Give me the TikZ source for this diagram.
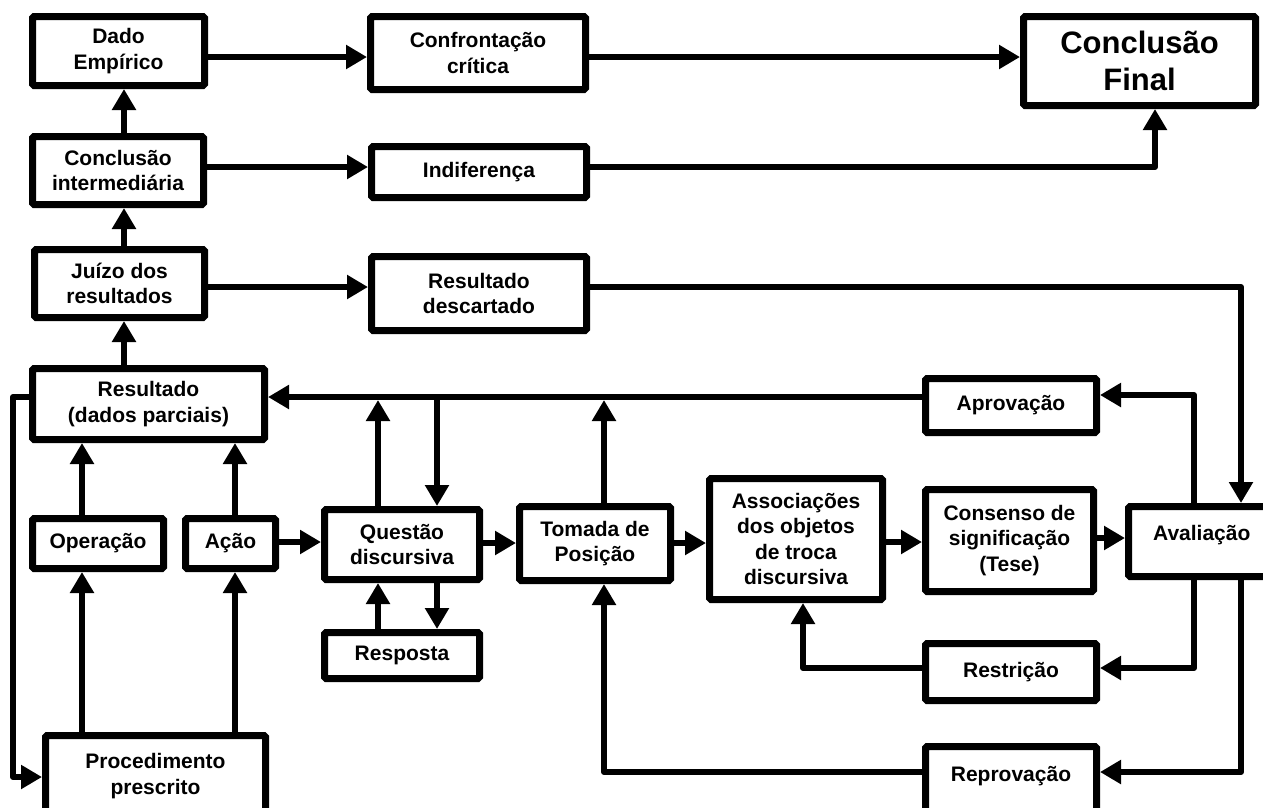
\documentclass[tikz,border=0pt]{standalone}
\usepackage{fontspec}
\setmainfont{Liberation Sans}
\usetikzlibrary{arrows.meta}
\begin{document}
\begin{tikzpicture}[x=1pt,y=-1pt,
  box/.style={draw, line width=7pt, inner sep=0pt, align=center, fill=white,
    font=\bfseries\fontsize{21}{25.5}\selectfont, rounded corners=1.5pt},
  conn/.style={line width=6pt, line join=round, -{Triangle[width=23pt,length=21pt]}},
  wire/.style={line width=6pt, line join=round, line cap=round}]
\clip (0,0) rectangle (1263,807);
\fill[white] (0,0) rectangle (1263,807);

% coordinates for connector routes
\coordinate (xA) at (124,0);
\coordinate (xO) at (82,0);
\coordinate (xC) at (235,0);
\coordinate (xL) at (13,0);
\coordinate (xQa) at (378,0);
\coordinate (xQb) at (437,0);
\coordinate (xT) at (604,0);
\coordinate (xR) at (803,0);
\coordinate (xH) at (1194,0);
\coordinate (xG) at (1241,0);
\coordinate (xF) at (1155,0);
\coordinate (yA) at (0,57);
\coordinate (yB) at (0,167);
\coordinate (yC) at (0,287);
\coordinate (yD) at (0,397);
\coordinate (yDb) at (0,400);
\coordinate (yE) at (0,777);
\coordinate (yF) at (0,542);
\coordinate (yG) at (0,395);
\coordinate (yH) at (0,668);
\coordinate (yI) at (0,772);

% boxes
\node[box, minimum width=172pt, minimum height=69pt] (dado) at (118.5,51) {Dado\\Empírico};
\node[box, minimum width=215pt, minimum height=73pt] (conf) at (478,53) {Confrontação\\crítica};
\node[box, minimum width=232pt, minimum height=89pt, font=\bfseries\fontsize{31}{37}\selectfont] (cfin) at (1139.5,61) {Conclusão\\Final};
\node[box, minimum width=171pt, minimum height=68pt] (cint) at (118,170.5) {Conclusão\\intermediária};
\node[box, minimum width=215pt, minimum height=51pt] (indif) at (479,172) {Indiferença};
\node[box, minimum width=170pt, minimum height=68pt] (juizo) at (119.5,283.5) {Juízo dos\\resultados};
\node[box, minimum width=215pt, minimum height=74pt] (rdesc) at (479,293.5) {Resultado\\descartado};
\node[box, minimum width=232pt, minimum height=71pt] (res) at (148.5,404) {Resultado\\(dados parciais)};
\node[box, minimum width=131pt, minimum height=50pt] (oper) at (98,543.5) {Operação};
\node[box, minimum width=90pt, minimum height=50pt] (acao) at (230.5,543.5) {Ação};
\node[box, minimum width=220pt, minimum height=81.5pt] (proc) at (155.5,776.25) {Procedimento\\prescrito};
\node[box, minimum width=155pt, minimum height=70pt] (quest) at (402,544.5) {Questão\\discursiva};
\node[box, minimum width=155pt, minimum height=46pt] (resp) at (402,655.5) {Resposta};
\node[box, minimum width=151pt, minimum height=74pt] (tomada) at (595,543.5) {Tomada de\\Posição};
\node[box, minimum width=173pt, minimum height=121pt] (assoc) at (796,539) {Associações\\dos objetos\\de troca\\discursiva};
\node[box, minimum width=168pt, minimum height=102pt] (cons) at (1009.5,540.5) {Consenso de\\significação\\(Tese)};
\node[box, minimum width=146.5pt, minimum height=70pt, text height=14pt, text depth=17pt] (aval) at (1201.75,541.5) {Avaliação};
\node[box, minimum width=171pt, minimum height=54pt] (aprov) at (1011,405.5) {Aprovação};
\node[box, minimum width=171pt, minimum height=57pt] (restr) at (1011,672) {Restrição};
\node[box, minimum width=171pt, minimum height=68.5pt, text height=14pt, text depth=12.5pt] (reprov) at (1011,780.75) {Reprovação};

% connectors: upper part
\draw[conn] (dado.east |- yA) -- (conf.west |- yA);
\draw[conn] (conf.east |- yA) -- (cfin.west |- yA);
\draw[conn] (cint.north -| xA) -- (dado.south -| xA);
\draw[conn] (cint.east |- yB) -- (indif.west |- yB);
\draw[conn] (indif.east |- yB) -| (cfin.south -| xF);
\draw[conn] (juizo.north -| xA) -- (cint.south -| xA);
\draw[conn] (juizo.east |- yC) -- (rdesc.west |- yC);
\draw[conn] (rdesc.east |- yC) -| (aval.north -| xG);
\draw[conn] (res.north -| xA) -- (juizo.south -| xA);

% left part
\draw[conn] (oper.north -| xO) -- (res.south -| xO);
\draw[conn] (acao.north -| xC) -- (res.south -| xC);
\draw[conn] (proc.north -| xO) -- (oper.south -| xO);
\draw[conn] (proc.north -| xC) -- (acao.south -| xC);
\draw[conn] (res.west |- yD) -- (xL |- yD) |- (proc.west |- yE);
\draw[conn] (acao.east |- yF) -- (quest.west |- yF);

% bus into Resultado
\draw[conn] (aprov.west |- yD) -- (res.east |- yD);
\draw[conn] (quest.north -| xQa) -- (xQa |- yDb);
\draw[conn] (xQb |- yD) -- (quest.north -| xQb);
\draw[conn] (quest.south -| xQb) -- (resp.north -| xQb);
\draw[conn] (resp.north -| xQa) -- (quest.south -| xQa);
\draw[conn] (tomada.north -| xT) -- (xT |- yDb);

% middle row
\draw[conn] (quest.east |- 0,543) -- (tomada.west |- 0,543);
\draw[conn] (tomada.east |- 0,543) -- (assoc.west |- 0,543);
\draw[conn] (assoc.east |- yF) -- (cons.west |- yF);
\draw[conn] (cons.east |- 0,538) -- (aval.west |- 0,538);

% evaluation loops
\draw[conn] (aval.north -| xH) |- (aprov.east |- yG);
\draw[conn] (aval.south -| xH) |- (restr.east |- yH);
\draw[conn] (restr.west |- yH) -| (assoc.south -| xR);
\draw[conn] (aval.south -| xG) |- (reprov.east |- yI);
\draw[conn] (reprov.west |- yI) -| (tomada.south -| xT);
\end{tikzpicture}
\end{document}
